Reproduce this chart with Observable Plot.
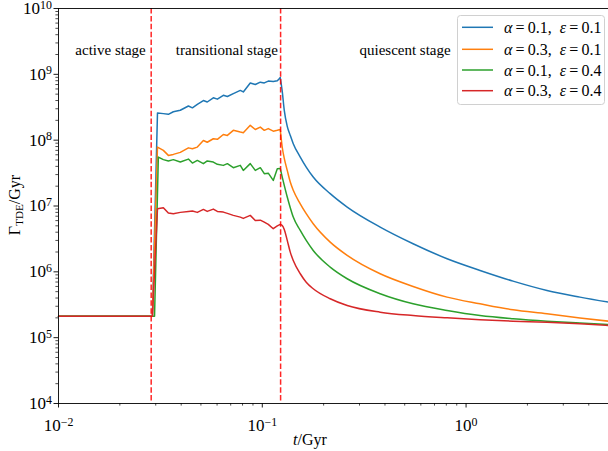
<!DOCTYPE html>
<html><head><meta charset="utf-8">
<script src="https://cdn.jsdelivr.net/npm/d3@7"></script>
<script src="https://cdn.jsdelivr.net/npm/@observablehq/plot@0.6"></script>
<style>
body{margin:0;background:#fff;}
#wrap{position:relative;width:608px;height:451px;overflow:hidden;}
svg text{font-family:"Liberation Serif",serif;}
</style></head><body><div id="wrap"></div>
<script>
// active + transitional stage (Gyr)
const stageTimes = [0.01, 0.0289, 0.0306, 0.0327, 0.0346, 0.0366, 0.0396, 0.0434, 0.0454, 0.0480, 0.0514, 0.0537, 0.0575, 0.0602, 0.0644, 0.0674, 0.0721, 0.0780, 0.0807, 0.0873, 0.0924, 0.0978, 0.1023, 0.1070, 0.1132, 0.1185, 0.1225];
const greenStartTimes = [0.01, 0.0296, 0.0309];
const blueStage = [2.12e5, 2.12e5, 2.58e8, 2.53e8, 2.47e8, 2.7e8, 2.85e8, 3.3e8, 3.1e8, 3.5e8, 4.0e8, 3.8e8, 4.4e8, 4.2e8, 4.8e8, 4.6e8, 5.1e8, 5.7e8, 5.4e8, 7.4e8, 7.0e8, 7.6e8, 7.4e8, 7.9e8, 7.8e8, 8.0e8, 8.9e8];
const orangeStage = [2.12e5, 2.12e5, 7.85e7, 7.0e7, 5.87e7, 6.08e7, 6.53e7, 7.64e7, 7.4e7, 7.85e7, 9.9e7, 9.3e7, 1.05e8, 1.03e8, 1.22e8, 1.18e8, 1.41e8, 1.33e8, 1.3e8, 1.68e8, 1.45e8, 1.58e8, 1.41e8, 1.5e8, 1.37e8, 1.41e8, 1.45e8];
const greenStage = [2.12e5, 2.12e5, 5.53e7, 5.06e7, 4.84e7, 5.06e7, 4.65e7, 5.16e7, 4.49e7, 4.93e7, 4.4e7, 4.84e7, 4.65e7, 4.29e7, 4.14e7, 4.4e7, 3.82e7, 4.14e7, 3.47e7, 4.4e7, 3.47e7, 3.82e7, 3.1e7, 3.15e7, 2.45e7, 3.69e7, 3.72e7];
const redStage = [2.12e5, 2.12e5, 9.1e6, 9.42e6, 7.8e6, 7.64e6, 8.0e6, 8.28e6, 8.4e6, 8.0e6, 8.88e6, 8.28e6, 8.97e6, 8.28e6, 8.08e6, 7.72e6, 7.2e6, 6.78e6, 6.48e6, 7.2e6, 6.04e6, 6.1e6, 5.69e6, 5.25e6, 4.52e6, 4.99e6, 5.25e6];
// quiescent stage (Gyr)
const decayTimes = [0.1253, 0.1282, 0.1326, 0.1372, 0.1419, 0.1536, 0.1643, 0.1778, 0.2154, 0.2610, 0.3789, 0.5497, 0.8071, 1.171, 1.700, 2.495, 3.622, 5.0];
const blueDecay = [5.5e8, 2.84e8, 1.62e8, 1.18e8, 8.85e7, 5.53e7, 3.9e7, 2.75e7, 1.54e7, 9.63e6, 4.78e6, 2.67e6, 1.58e6, 1.05e6, 7.22e5, 5.21e5, 4.13e5, 3.46e5];
const orangeDecay = [7.8e7, 5.3e7, 3.47e7, 2.31e7, 1.73e7, 1.08e7, 7.64e6, 5.38e6, 2.83e6, 1.78e6, 9.35e5, 6.0e5, 4.13e5, 3.27e5, 2.65e5, 2.31e5, 1.99e5, 1.78e5];
const greenDecay = [2.75e7, 2.06e7, 1.37e7, 9.42e6, 6.78e6, 4.26e6, 3.0e6, 2.11e6, 1.18e6, 7.85e5, 4.65e5, 3.27e5, 2.59e5, 2.17e5, 1.94e5, 1.78e5, 1.67e5, 1.59e5];
const redDecay = [5.07e6, 4.41e6, 3.0e6, 1.99e6, 1.49e6, 9.35e5, 6.97e5, 5.53e5, 3.9e5, 3.08e5, 2.44e5, 2.17e5, 2.0e5, 1.87e5, 1.78e5, 1.72e5, 1.63e5, 1.53e5];
const alphas = ["0.1", "0.3", "0.1", "0.3"];
const epsilons = ["0.1", "0.1", "0.4", "0.4"];
const seriesColors = ["#1f77b4", "#ff7f0e", "#2ca02c", "#d62728"];
const transitions = [0.0285, 0.1230];
const stageNames = ["active stage", "transitional stage", "quiescent stage"];
const stageT = [0.0180, 0.0670, 0.502];
const stageLevel = [2.3e9, 2.3e9, 2.3e9];
const xMajor = [0.01, 0.1, 1];
const yMajor = [1e4, 1e5, 1e6, 1e7, 1e8, 1e9, 1e10];

const greenStageTimes = greenStartTimes.concat(stageTimes.slice(3));
const xMinor = [];
[0.01, 0.1, 1].forEach(b => { for (let k = 2; k <= 9; k++) if (b * k <= 5.0001) xMinor.push(b * k); });
const yMinor = [];
[1e4, 1e5, 1e6, 1e7, 1e8, 1e9].forEach(b => { for (let k = 2; k <= 9; k++) yMinor.push(b * k); });
const fmt = d => "10^" + Math.round(Math.log10(d));
const stageVals = [blueStage, orangeStage, greenStage, redStage];
const stageTs = [stageTimes, stageTimes, greenStageTimes, stageTimes];
const decayVals = [blueDecay, orangeDecay, greenDecay, redDecay];
const lastT = stageTimes[stageTimes.length - 1];

const lineMarks = [];
stageVals.forEach((vals, i) => {
  lineMarks.push(Plot.line(vals, {x: stageTs[i], y: d => d, stroke: seriesColors[i], strokeWidth: 1.5}));
  const dv = [vals[vals.length - 1]].concat(decayVals[i]);
  const dt = [lastT].concat(decayTimes);
  lineMarks.push(Plot.line(dv, {x: dt, y: d => d, stroke: seriesColors[i], strokeWidth: 1.5, curve: "monotone-x"}));
});

const chart = Plot.plot({
  width: 608, height: 451,
  marginLeft: 58, marginRight: 0, marginTop: 8, marginBottom: 48,
  style: {fontSize: "17px", color: "#000", background: "#fff"},
  x: {type: "log", domain: [0.01, 5]},
  y: {type: "log", domain: [1e4, 1e10]},
  marks: [
    Plot.axisX({ticks: xMajor, tickSize: 4.5, tickPadding: 11, tickFormat: fmt, label: null, fontSize: 17, strokeWidth: 0.9}),
    Plot.axisX({ticks: xMinor, tickSize: 2.6, tickFormat: () => "", label: null, strokeWidth: 0.7}),
    Plot.axisY({ticks: yMajor, tickSize: 4.5, tickPadding: 2, tickFormat: fmt, label: null, fontSize: 17, strokeWidth: 0.9}),
    Plot.axisY({ticks: yMinor, tickSize: 2.6, tickFormat: () => "", label: null, strokeWidth: 0.7}),
    ...lineMarks,
    Plot.ruleX(transitions, {stroke: "#ff0000", strokeOpacity: 0.85, strokeWidth: 1.5, strokeDasharray: "5.5,2.4"}),
    Plot.ruleY([1e10], {stroke: "#000", strokeWidth: 0.9}),
    Plot.ruleY([1e4], {stroke: "#000", strokeWidth: 0.9}),
    Plot.ruleX([0.01], {stroke: "#000", strokeWidth: 0.9}),
    Plot.text(stageNames, {x: stageT, y: stageLevel, text: d => d, fontSize: 15, fontFamily: "Liberation Serif", textAnchor: "middle", fill: "#000"})
  ]
});
chart.setAttribute("font-family", "'Liberation Serif', serif");
chart.style.fontFamily = "'Liberation Serif', serif";

// superscript exponents in tick labels
chart.querySelectorAll("text").forEach(t => {
  const s = t.textContent;
  if (s.startsWith("10^")) {
    const exp = s.slice(3).replace("-", "\u2212");
    t.textContent = "10";
    const ts = document.createElementNS("http://www.w3.org/2000/svg", "tspan");
    ts.setAttribute("dy", "-0.45em");
    ts.setAttribute("font-size", "0.7em");
    ts.textContent = exp;
    t.appendChild(ts);
  }
});

const svg = d3.select(chart);
// y title
const yt = svg.append("text").attr("transform", "translate(20,205) rotate(-90)")
  .attr("text-anchor", "middle").attr("font-size", 16).attr("fill", "#000");
yt.append("tspan").text("Γ");
yt.append("tspan").attr("font-size", "0.7em").attr("dy", "0.3em").text("TDE");
yt.append("tspan").attr("dy", "-0.21em").text("/Gyr");
// x title
const xt = svg.append("text").attr("x", 310).attr("y", 445)
  .attr("text-anchor", "middle").attr("font-size", 16).attr("fill", "#000");
xt.append("tspan").attr("font-style", "italic").text("t");
xt.append("tspan").text("/Gyr");

// legend
const lg = svg.append("g");
lg.append("rect").attr("x", 457.5).attr("y", 15.5).attr("width", 147).attr("height", 89)
  .attr("rx", 3).attr("fill", "#fff").attr("fill-opacity", 0.85).attr("stroke", "#d0d0d0").attr("stroke-width", 1);
const rowY = [27.3, 49.3, 70, 90.7];
seriesColors.forEach((c, i) => {
  lg.append("line").attr("x1", 462).attr("x2", 493).attr("y1", rowY[i]).attr("y2", rowY[i])
    .attr("stroke", c).attr("stroke-width", 1.5);
  const tx = lg.append("text").attr("x", 504).attr("y", rowY[i] + 5.5).attr("font-size", 16)
    .attr("fill", "#000").attr("text-anchor", "start");
  tx.append("tspan").attr("font-style", "italic").text("α");
  tx.append("tspan").text("\u2009=\u2009" + alphas[i] + ",\u2002");
  tx.append("tspan").attr("font-style", "italic").text("ε");
  tx.append("tspan").text("\u2009=\u2009" + epsilons[i]);
});

document.getElementById("wrap").appendChild(chart);
</script>
</body></html>
